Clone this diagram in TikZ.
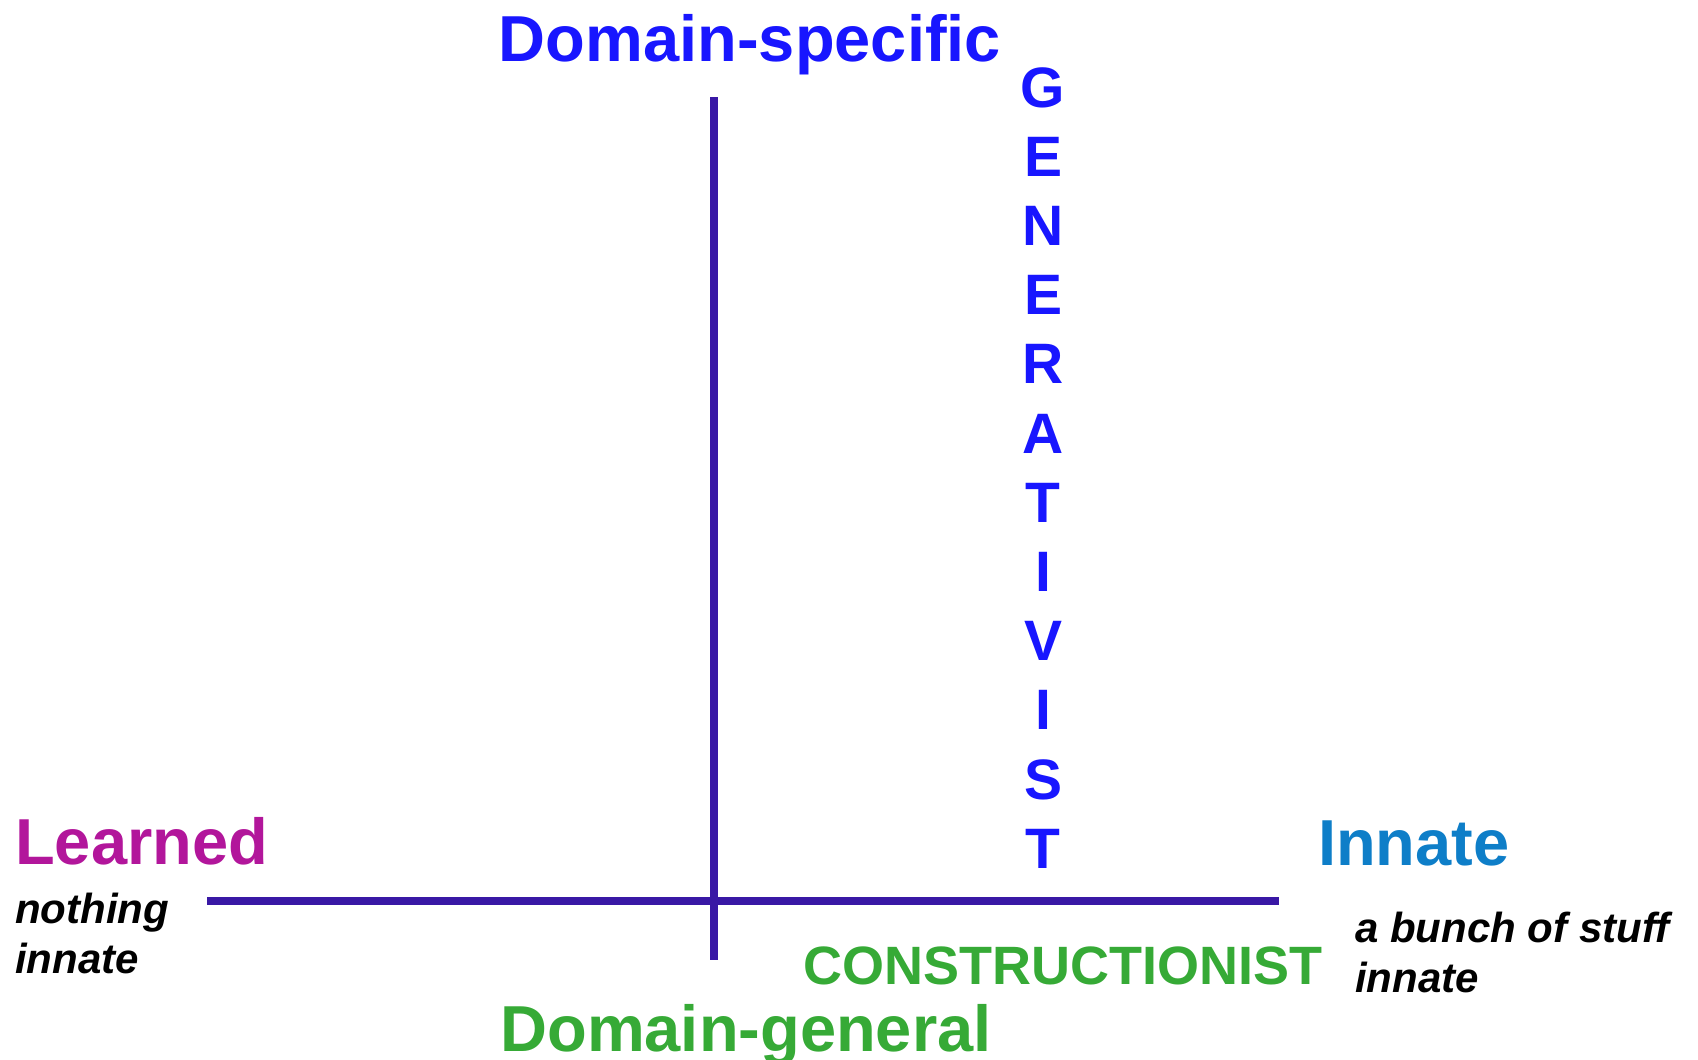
\documentclass[tikz,border=0pt]{standalone}
\usepackage{fontspec}
\setmainfont{Liberation Sans}
\definecolor{axisline}{RGB}{57,24,165}
\definecolor{specblue}{RGB}{24,22,255}
\definecolor{learnmag}{RGB}{178,22,155}
\definecolor{innateblue}{RGB}{14,126,200}
\definecolor{gengreen}{RGB}{54,170,54}
\tikzset{
  bigword/.style={inner sep=0, font=\bfseries\fontsize{65}{78}\selectfont},
  smallnote/.style={inner sep=0, align=left, font=\bfseries\itshape\fontsize{42}{50}\selectfont},
  axis/.style={draw=axisline, line width=8pt}
}
\begin{document}
\begin{tikzpicture}[x=1pt,y=-1pt]
    \useasboundingbox (0,0) rectangle (1698,1060);
    \coordinate (top) at (714,97);
    \coordinate (bottom) at (714,960);
    \coordinate (left) at (207,901);
    \coordinate (right) at (1279,901);
    \draw[axis] (top) -- (bottom);
    \draw[axis] (left) -- (right);

    \node[bigword, anchor=base, text=specblue] (dspec) at (750,61) {Domain-specific};
    \node[bigword, anchor=base, text=gengreen] (dgen) at (746,1051) {Domain-general};
    \node[bigword, anchor=base west, text=learnmag] (learned) at (15,864) {Learned};
    \node[bigword, anchor=base west, text=innateblue] (innate) at (1318,865) {Innate};

    % base of a two-line node is its last line
    \node[smallnote, anchor=base west] (nothing) at (15,973) {nothing\\innate};
    \node[smallnote, anchor=base west] (bunch) at (1355,992) {a bunch of stuff\\innate};

    \node[inner sep=0, anchor=base, text=gengreen, font=\bfseries\fontsize{54}{60}\selectfont]
      (constr) at (1063,984) {CONSTRUCTIONIST};
    \foreach \ch [count=\i from 0] in {G,E,N,E,R,A,T,I,V,I,S,T}
      \node[inner sep=0, anchor=base, text=specblue, font=\bfseries\fontsize{57}{60}\selectfont]
        (gen\i) at (1043,107+69.2*\i) {\ch};
\end{tikzpicture}
\end{document}
